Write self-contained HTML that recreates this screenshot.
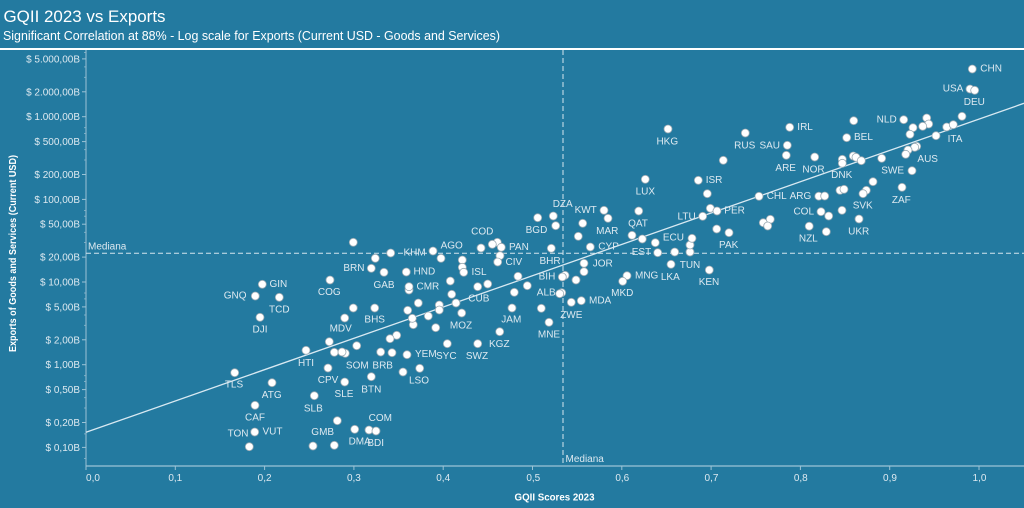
<!DOCTYPE html>
<html><head><meta charset="utf-8">
<style>
html,body{margin:0;padding:0;background:#237aa0;}
svg{display:block;}
.t{font-family:"Liberation Sans",sans-serif;}
.lb{font-family:"Liberation Sans",sans-serif;font-size:10px;fill:#dde9f0;}
.yt{font-family:"Liberation Sans",sans-serif;font-size:10px;fill:#dde9f0;text-anchor:end;}
.xt{font-family:"Liberation Sans",sans-serif;font-size:10px;fill:#dde9f0;text-anchor:middle;}
circle{fill:#ffffff;stroke:#9aa9b2;stroke-width:0.8;}
</style></head>
<body>
<svg width="1024" height="508" viewBox="0 0 1024 508" xmlns="http://www.w3.org/2000/svg">
<rect x="0" y="0" width="1024" height="508" fill="#237aa0"/>
<!-- titles -->
<text class="t" x="3.5" y="22" font-size="17" fill="#ffffff" textLength="162" lengthAdjust="spacingAndGlyphs">GQII 2023 vs Exports</text>
<text class="t" x="3" y="40" font-size="12.5" fill="#ffffff" textLength="497" lengthAdjust="spacingAndGlyphs">Significant Correlation at 88% - Log scale for Exports (Current USD - Goods and Services)</text>
<rect x="0" y="48" width="1024" height="2" fill="#ffffff"/>

<!-- axes -->
<line x1="86" y1="50" x2="86" y2="466.5" stroke="#9cc3d6" stroke-width="1"/>
<line x1="86" y1="466" x2="1024" y2="466" stroke="#9cc3d6" stroke-width="1.2"/>

<!-- y ticks major -->
<g stroke="#9cc3d6" stroke-width="1">
<line x1="82" y1="58.9" x2="86" y2="58.9"/>
<line x1="82" y1="91.8" x2="86" y2="91.8"/>
<line x1="82" y1="116.7" x2="86" y2="116.7"/>
<line x1="82" y1="141.6" x2="86" y2="141.6"/>
<line x1="82" y1="174.5" x2="86" y2="174.5"/>
<line x1="82" y1="199.4" x2="86" y2="199.4"/>
<line x1="82" y1="224.2" x2="86" y2="224.2"/>
<line x1="82" y1="257.1" x2="86" y2="257.1"/>
<line x1="82" y1="282" x2="86" y2="282"/>
<line x1="82" y1="306.9" x2="86" y2="306.9"/>
<line x1="82" y1="339.8" x2="86" y2="339.8"/>
<line x1="82" y1="364.7" x2="86" y2="364.7"/>
<line x1="82" y1="389.6" x2="86" y2="389.6"/>
<line x1="82" y1="422.5" x2="86" y2="422.5"/>
<line x1="82" y1="447.4" x2="86" y2="447.4"/>
</g>
<!-- y minor ticks (3,4,6,7,8,9 multiples) -->
<g stroke="#8fb8cc" stroke-width="0.8">
<line x1="84" y1="77.3" x2="86" y2="77.3"/><line x1="84" y1="66.9" x2="86" y2="66.9"/>
<line x1="84" y1="52.4" x2="86" y2="52.4"/>
<line x1="84" y1="127.7" x2="86" y2="127.7"/><line x1="84" y1="133.5" x2="86" y2="133.5"/>
<line x1="84" y1="160" x2="86" y2="160"/><line x1="84" y1="149.7" x2="86" y2="149.7"/>
<line x1="84" y1="210.4" x2="86" y2="210.4"/><line x1="84" y1="216.2" x2="86" y2="216.2"/>
<line x1="84" y1="242.6" x2="86" y2="242.6"/><line x1="84" y1="232.3" x2="86" y2="232.3"/>
<line x1="84" y1="293" x2="86" y2="293"/><line x1="84" y1="298.9" x2="86" y2="298.9"/>
<line x1="84" y1="325.3" x2="86" y2="325.3"/><line x1="84" y1="315" x2="86" y2="315"/>
<line x1="84" y1="375.7" x2="86" y2="375.7"/><line x1="84" y1="381.5" x2="86" y2="381.5"/>
<line x1="84" y1="408" x2="86" y2="408"/><line x1="84" y1="397.7" x2="86" y2="397.7"/>
<line x1="84" y1="458.4" x2="86" y2="458.4"/><line x1="84" y1="433.9" x2="86" y2="433.9"/>
</g>

<!-- y tick labels -->
<g>
<text class="yt" x="80" y="62.4">$ 5.000,00B</text>
<text class="yt" x="80" y="95.3">$ 2.000,00B</text>
<text class="yt" x="80" y="120.2">$ 1.000,00B</text>
<text class="yt" x="80" y="145.1">$ 500,00B</text>
<text class="yt" x="80" y="178">$ 200,00B</text>
<text class="yt" x="80" y="202.9">$ 100,00B</text>
<text class="yt" x="80" y="227.7">$ 50,00B</text>
<text class="yt" x="80" y="260.6">$ 20,00B</text>
<text class="yt" x="80" y="285.5">$ 10,00B</text>
<text class="yt" x="80" y="310.4">$ 5,00B</text>
<text class="yt" x="80" y="343.3">$ 2,00B</text>
<text class="yt" x="80" y="368.2">$ 1,00B</text>
<text class="yt" x="80" y="393.1">$ 0,50B</text>
<text class="yt" x="80" y="426">$ 0,20B</text>
<text class="yt" x="80" y="450.9">$ 0,10B</text>
</g>

<!-- x ticks -->
<g stroke="#9cc3d6" stroke-width="1">
<line x1="86" y1="466" x2="86" y2="470"/>
<line x1="175.3" y1="466" x2="175.3" y2="470"/>
<line x1="264.6" y1="466" x2="264.6" y2="470"/>
<line x1="353.9" y1="466" x2="353.9" y2="470"/>
<line x1="443.2" y1="466" x2="443.2" y2="470"/>
<line x1="532.5" y1="466" x2="532.5" y2="470"/>
<line x1="621.8" y1="466" x2="621.8" y2="470"/>
<line x1="711.1" y1="466" x2="711.1" y2="470"/>
<line x1="800.4" y1="466" x2="800.4" y2="470"/>
<line x1="889.7" y1="466" x2="889.7" y2="470"/>
<line x1="979" y1="466" x2="979" y2="470"/>
</g>
<g>
<text class="xt" x="93" y="481">0,0</text>
<text class="xt" x="175.3" y="481">0,1</text>
<text class="xt" x="264.6" y="481">0,2</text>
<text class="xt" x="353.9" y="481">0,3</text>
<text class="xt" x="443.2" y="481">0,4</text>
<text class="xt" x="533.3" y="481">0,5</text>
<text class="xt" x="622.3" y="481">0,6</text>
<text class="xt" x="711.5" y="481">0,7</text>
<text class="xt" x="800.8" y="481">0,8</text>
<text class="xt" x="890" y="481">0,9</text>
<text class="xt" x="979.5" y="481">1,0</text>
</g>

<!-- axis titles -->
<text class="t" x="514.5" y="500.5" font-size="10" font-weight="bold" fill="#ffffff" textLength="80" lengthAdjust="spacingAndGlyphs">GQII Scores 2023</text>
<text class="t" transform="translate(16,253.5) rotate(-90)" text-anchor="middle" font-size="10" font-weight="bold" fill="#ffffff" textLength="197" lengthAdjust="spacingAndGlyphs">Exports of Goods and Services (Current USD)</text>

<!-- median lines -->
<line x1="86" y1="253.3" x2="1024" y2="253.3" stroke="#d4e5ee" stroke-width="1" stroke-dasharray="5,3"/>
<line x1="563" y1="50" x2="563" y2="466" stroke="#d4e5ee" stroke-width="1" stroke-dasharray="5,3"/>
<text class="lb" x="88" y="249.5">Mediana</text>
<text class="lb" x="565.5" y="462">Mediana</text>

<!-- regression line -->
<line x1="86" y1="432.3" x2="1024" y2="103.3" stroke="#d8e9f2" stroke-width="1.3"/>

<!-- points -->
<g>
<circle cx="262.3" cy="284.3" r="4"/><circle cx="255.3" cy="296" r="4"/><circle cx="279.3" cy="297.3" r="4"/><circle cx="260" cy="317.3" r="4"/><circle cx="234.7" cy="372.7" r="4"/><circle cx="272" cy="382.7" r="4"/><circle cx="255" cy="405.3" r="4"/><circle cx="254.7" cy="432" r="4"/><circle cx="249.3" cy="446.7" r="4"/>

<circle cx="353.3" cy="242.3" r="4"/><circle cx="390.7" cy="253" r="4"/><circle cx="375.3" cy="258.3" r="4"/><circle cx="371.3" cy="268.3" r="4"/><circle cx="384" cy="272.3" r="4"/><circle cx="406.3" cy="272" r="4"/><circle cx="330" cy="280" r="4"/><circle cx="409" cy="290" r="4"/><circle cx="409" cy="286.7" r="4"/><circle cx="353.3" cy="308" r="4"/><circle cx="374.7" cy="308" r="4"/><circle cx="344.7" cy="318" r="4"/><circle cx="418.3" cy="303" r="4"/><circle cx="407.7" cy="310.3" r="4"/><circle cx="413.3" cy="324.7" r="4"/><circle cx="412.3" cy="318.3" r="4"/><circle cx="428.3" cy="316" r="4"/><circle cx="396.7" cy="335.3" r="4"/><circle cx="390" cy="338.7" r="4"/><circle cx="329.3" cy="341.7" r="4"/><circle cx="306" cy="350.3" r="4"/><circle cx="334.3" cy="352.3" r="4"/><circle cx="345.3" cy="353.3" r="4"/><circle cx="342" cy="352" r="4"/><circle cx="356.7" cy="345.7" r="4"/><circle cx="380.7" cy="352" r="4"/><circle cx="392" cy="352.7" r="4"/><circle cx="407" cy="354.7" r="4"/><circle cx="328" cy="368" r="4"/><circle cx="344.7" cy="382" r="4"/><circle cx="371.3" cy="376.7" r="4"/><circle cx="403" cy="372" r="4"/><circle cx="419.7" cy="368.3" r="4"/><circle cx="314.3" cy="395.7" r="4"/><circle cx="337.3" cy="420.7" r="4"/><circle cx="354.7" cy="429.3" r="4"/><circle cx="369" cy="430" r="4"/><circle cx="376" cy="431" r="4"/><circle cx="313" cy="446" r="4"/><circle cx="334.3" cy="445.3" r="4"/>

<circle cx="433" cy="251" r="4"/><circle cx="441" cy="258.3" r="4"/><circle cx="462.3" cy="260" r="4"/><circle cx="462.3" cy="267.3" r="4"/><circle cx="463.7" cy="272.3" r="4"/><circle cx="481" cy="248" r="4"/><circle cx="497.3" cy="242.3" r="4"/><circle cx="492.3" cy="244.3" r="4"/><circle cx="501.3" cy="247.3" r="4"/><circle cx="500" cy="255.7" r="4"/><circle cx="497.7" cy="262" r="4"/><circle cx="551.3" cy="248.3" r="4"/><circle cx="578.3" cy="236.3" r="4"/><circle cx="590.3" cy="247" r="4"/><circle cx="584" cy="263.3" r="4"/><circle cx="584" cy="271.7" r="4"/><circle cx="576" cy="280" r="4"/><circle cx="565" cy="275.3" r="4"/><circle cx="562.3" cy="277" r="4"/><circle cx="450.3" cy="281" r="4"/><circle cx="477.7" cy="286.7" r="4"/><circle cx="487.7" cy="284" r="4"/><circle cx="518" cy="276.3" r="4"/><circle cx="527.3" cy="285.7" r="4"/><circle cx="514.3" cy="292.3" r="4"/><circle cx="451.7" cy="294.3" r="4"/><circle cx="456" cy="303" r="4"/><circle cx="439.3" cy="305" r="4"/><circle cx="439.3" cy="310" r="4"/><circle cx="435.7" cy="327.7" r="4"/><circle cx="461.7" cy="313" r="4"/><circle cx="512" cy="308" r="4"/><circle cx="541.3" cy="308.3" r="4"/><circle cx="561.7" cy="292.7" r="4"/><circle cx="559.7" cy="293.7" r="4"/><circle cx="549" cy="322.3" r="4"/><circle cx="571.3" cy="302.3" r="4"/><circle cx="581.3" cy="300.7" r="4"/><circle cx="499.7" cy="331.7" r="4"/><circle cx="477.7" cy="343.7" r="4"/><circle cx="447.3" cy="343.7" r="4"/>

<circle cx="645.3" cy="179.3" r="4"/><circle cx="553.3" cy="216" r="4"/><circle cx="537.7" cy="217.7" r="4"/><circle cx="555.7" cy="225.7" r="4"/><circle cx="604" cy="210.3" r="4"/><circle cx="582.7" cy="223.3" r="4"/><circle cx="608" cy="218.3" r="4"/><circle cx="638.7" cy="211" r="4"/><circle cx="632" cy="235.3" r="4"/><circle cx="642.3" cy="239" r="4"/><circle cx="655.3" cy="242.7" r="4"/><circle cx="657.7" cy="252.7" r="4"/><circle cx="674.7" cy="252" r="4"/><circle cx="690" cy="252" r="4"/><circle cx="690" cy="245" r="4"/><circle cx="692" cy="238.3" r="4"/>

<circle cx="668" cy="129" r="4"/><circle cx="745.3" cy="133" r="4"/><circle cx="789.7" cy="127.3" r="4"/><circle cx="787.3" cy="145.3" r="4"/><circle cx="786.3" cy="155.3" r="4"/><circle cx="723.3" cy="160.3" r="4"/><circle cx="814.7" cy="157" r="4"/><circle cx="698.3" cy="180.3" r="4"/><circle cx="707.3" cy="193.7" r="4"/><circle cx="759" cy="196.3" r="4"/><circle cx="818.8" cy="196.2" r="4"/><circle cx="710.3" cy="208.3" r="4"/><circle cx="717" cy="211" r="4"/><circle cx="702.7" cy="216.3" r="4"/><circle cx="763.3" cy="222.7" r="4"/><circle cx="770.3" cy="219.3" r="4"/><circle cx="767.7" cy="226" r="4"/><circle cx="821" cy="211.7" r="4"/><circle cx="809.2" cy="226.2" r="4"/><circle cx="716.7" cy="229" r="4"/><circle cx="729" cy="232.7" r="4"/><circle cx="671" cy="264.3" r="4"/><circle cx="709.3" cy="270" r="4"/><circle cx="627" cy="275.7" r="4"/><circle cx="622.7" cy="281.3" r="4"/>

<circle cx="972.3" cy="69" r="4"/><circle cx="970" cy="89" r="4"/><circle cx="974.7" cy="90.3" r="4"/><circle cx="962" cy="116.3" r="4"/><circle cx="903.7" cy="119.7" r="4"/><circle cx="926.7" cy="118" r="4"/><circle cx="928.7" cy="124" r="4"/><circle cx="922.7" cy="126.3" r="4"/><circle cx="913" cy="127.7" r="4"/><circle cx="910" cy="134.3" r="4"/><circle cx="946.7" cy="127" r="4"/><circle cx="953.3" cy="124.7" r="4"/><circle cx="936" cy="135.7" r="4"/><circle cx="853.7" cy="120.7" r="4"/><circle cx="846.7" cy="137.7" r="4"/><circle cx="916.7" cy="146.3" r="4"/><circle cx="914.7" cy="147.3" r="4"/><circle cx="908" cy="150" r="4"/><circle cx="905.7" cy="154.3" r="4"/><circle cx="842.3" cy="159.3" r="4"/><circle cx="842.3" cy="163.3" r="4"/><circle cx="853.3" cy="156" r="4"/><circle cx="856" cy="157.3" r="4"/><circle cx="861.3" cy="160.7" r="4"/><circle cx="881.7" cy="158.3" r="4"/><circle cx="912" cy="170.7" r="4"/><circle cx="873" cy="181.7" r="4"/><circle cx="866.3" cy="190.3" r="4"/><circle cx="863" cy="193.7" r="4"/><circle cx="902" cy="187.3" r="4"/><circle cx="824.7" cy="196" r="4"/><circle cx="840" cy="190.3" r="4"/><circle cx="844" cy="189.3" r="4"/><circle cx="828.7" cy="216" r="4"/><circle cx="842" cy="210.3" r="4"/><circle cx="859" cy="219" r="4"/><circle cx="826.3" cy="231.7" r="4"/>
</g>

<!-- labels -->
<g class="lb" dominant-baseline="central">
<text x="269.5" y="284.3">GIN</text>
<text x="246.5" y="296" text-anchor="end">GNQ</text>
<text x="279.3" y="310" text-anchor="middle">TCD</text>
<text x="260" y="330" text-anchor="middle">DJI</text>
<text x="234" y="385" text-anchor="middle">TLS</text>
<text x="271.7" y="395.3" text-anchor="middle">ATG</text>
<text x="255" y="418" text-anchor="middle">CAF</text>
<text x="262.5" y="432">VUT</text>
<text x="248.5" y="434" text-anchor="end">TON</text>
<text x="403.5" y="253">KHM</text>
<text x="364.5" y="268.3" text-anchor="end">BRN</text>
<text x="384" y="285.3" text-anchor="middle">GAB</text>
<text x="413.5" y="272">HND</text>
<text x="329.3" y="292.7" text-anchor="middle">COG</text>
<text x="416.5" y="287">CMR</text>
<text x="374.7" y="320" text-anchor="middle">BHS</text>
<text x="340.7" y="329" text-anchor="middle">MDV</text>
<text x="306" y="363.3" text-anchor="middle">HTI</text>
<text x="415" y="354.7">YEM</text>
<text x="357.3" y="366" text-anchor="middle">SOM</text>
<text x="382.7" y="366" text-anchor="middle">BRB</text>
<text x="328" y="380.7" text-anchor="middle">CPV</text>
<text x="344" y="394.7" text-anchor="middle">SLE</text>
<text x="371.3" y="390" text-anchor="middle">BTN</text>
<text x="419" y="381" text-anchor="middle">LSO</text>
<text x="313.3" y="409" text-anchor="middle">SLB</text>
<text x="322.7" y="432.3" text-anchor="middle">GMB</text>
<text x="380.3" y="418.3" text-anchor="middle">COM</text>
<text x="359.7" y="442" text-anchor="middle">DMA</text>
<text x="375.7" y="443.3" text-anchor="middle">BDI</text>
<text x="451.7" y="246" text-anchor="middle">AGO</text>
<text x="471.5" y="272.3">ISL</text>
<text x="509" y="247.3">PAN</text>
<text x="505.5" y="262.7">CIV</text>
<text x="482.3" y="232" text-anchor="middle">COD</text>
<text x="547.3" y="230.7" text-anchor="end">BGD</text>
<text x="550" y="261.7" text-anchor="middle">BHR</text>
<text x="598.3" y="247">CYP</text>
<text x="592.7" y="264">JOR</text>
<text x="555.3" y="277" text-anchor="end">BIH</text>
<text x="468.3" y="299">CUB</text>
<text x="461" y="326" text-anchor="middle">MOZ</text>
<text x="511.3" y="320" text-anchor="middle">JAM</text>
<text x="555.7" y="293" text-anchor="end">ALB</text>
<text x="549" y="335" text-anchor="middle">MNE</text>
<text x="571.3" y="315.3" text-anchor="middle">ZWE</text>
<text x="589" y="301">MDA</text>
<text x="499.3" y="344.7" text-anchor="middle">KGZ</text>
<text x="477" y="356.3" text-anchor="middle">SWZ</text>
<text x="446.3" y="356.7" text-anchor="middle">SYC</text>
<text x="645.3" y="192" text-anchor="middle">LUX</text>
<text x="562.7" y="204.3" text-anchor="middle">DZA</text>
<text x="585.7" y="210.7" text-anchor="middle">KWT</text>
<text x="607.3" y="231.3" text-anchor="middle">MAR</text>
<text x="638" y="224" text-anchor="middle">QAT</text>
<text x="684" y="238" text-anchor="end">ECU</text>
<text x="641.5" y="252.7" text-anchor="middle">EST</text>
<text x="695.7" y="217" text-anchor="end">LTU</text>
<text x="667.3" y="142" text-anchor="middle">HKG</text>
<text x="744.7" y="146" text-anchor="middle">RUS</text>
<text x="797.3" y="127.3">IRL</text>
<text x="780" y="146" text-anchor="end">SAU</text>
<text x="785.7" y="168.7" text-anchor="middle">ARE</text>
<text x="813.5" y="170" text-anchor="middle">NOR</text>
<text x="705.7" y="180.7">ISR</text>
<text x="766.7" y="196.7">CHL</text>
<text x="811.3" y="196.7" text-anchor="end">ARG</text>
<text x="724.3" y="211">PER</text>
<text x="814" y="212" text-anchor="end">COL</text>
<text x="808.3" y="239" text-anchor="middle">NZL</text>
<text x="728.7" y="245.3" text-anchor="middle">PAK</text>
<text x="670.3" y="277.3" text-anchor="middle">LKA</text>
<text x="690" y="265.3" text-anchor="middle">TUN</text>
<text x="709" y="282.7" text-anchor="middle">KEN</text>
<text x="635" y="276">MNG</text>
<text x="622.3" y="293.7" text-anchor="middle">MKD</text>
<text x="980.3" y="69">CHN</text>
<text x="963.3" y="89" text-anchor="end">USA</text>
<text x="974.3" y="102.7" text-anchor="middle">DEU</text>
<text x="896.7" y="120" text-anchor="end">NLD</text>
<text x="955" y="139.7" text-anchor="middle">ITA</text>
<text x="854" y="137.7">BEL</text>
<text x="927.7" y="159.3" text-anchor="middle">AUS</text>
<text x="841.7" y="175.7" text-anchor="middle">DNK</text>
<text x="904" y="171" text-anchor="end">SWE</text>
<text x="862.7" y="206" text-anchor="middle">SVK</text>
<text x="901.3" y="200.3" text-anchor="middle">ZAF</text>
<text x="858.7" y="232" text-anchor="middle">UKR</text>
</g>
</svg>
</body></html>
